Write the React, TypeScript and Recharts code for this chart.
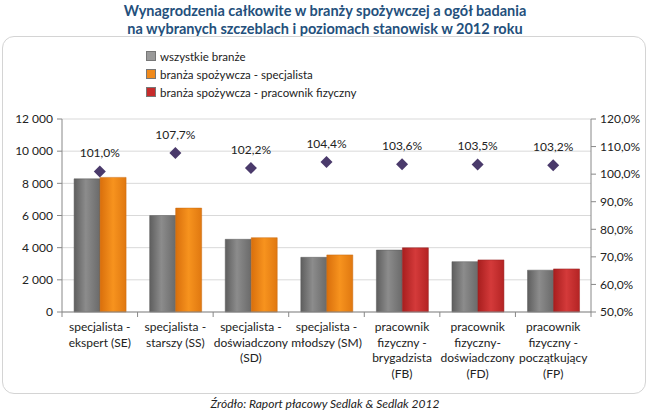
import { ComposedChart, Bar, Line, XAxis, YAxis, CartesianGrid, LabelList } from "recharts";

const categories = [
  "specjalista - ekspert (SE)",
  "specjalista - starszy (SS)",
  "specjalista - doświadczony (SD)",
  "specjalista - młodszy (SM)",
  "pracownik fizyczny - brygadzista (FB)",
  "pracownik fizyczny- doświadczony (FD)",
  "pracownik fizyczny - początkujący (FP)",
];
const tickLines = [
  ["specjalista -", "ekspert (SE)"],
  ["specjalista -", "starszy (SS)"],
  ["specjalista -", "doświadczony", "(SD)"],
  ["specjalista -", "młodszy (SM)"],
  ["pracownik", "fizyczny -", "brygadzista", "(FB)"],
  ["pracownik", "fizyczny-", "doświadczony", "(FD)"],
  ["pracownik", "fizyczny -", "początkujący", "(FP)"],
];
const allIndustries = [8280, 6000, 4520, 3400, 3850, 3130, 2600];
const foodSpecialist = [8370, 6460, 4620, 3550, null, null, null];
const foodPhysical = [null, null, null, null, 3990, 3240, 2680];
const ratio = [101.0, 107.7, 102.2, 104.4, 103.6, 103.5, 103.2];
const leftTicks = [0, 2000, 4000, 6000, 8000, 10000, 12000];
const rightTicks = [50, 60, 70, 80, 90, 100, 110, 120];

const data = categories.map((c, i) => ({
  name: c,
  all: allIndustries[i],
  spec: foodSpecialist[i],
  phys: foodPhysical[i],
  ratio: ratio[i],
}));

const FONT = "Lato, 'Open Sans', sans-serif";
const legendItems = [
  { label: "wszystkie branże", color: "#9a9a9a" },
  { label: "branża spożywcza - specjalista", color: "#f08a1c" },
  { label: "branża spożywcza - pracownik fizyczny", color: "#c62b2b" },
];

const fmtThousands = (v: number) => v.toString().replace(/\B(?=(\d{3})+(?!\d))/g, " ");
const fmtPct = (v: number) => v.toFixed(1).replace(".", ",") + "%";

function CategoryTick(props: any) {
  const { x, y, payload, index } = props;
  const band = 529 / 7;
  const lines = tickLines[payload.index ?? index] || [];
  return (
    <g>
      <line x1={x - band / 2} x2={x - band / 2} y1={y - 8} y2={y - 3} stroke="#888" />
      {index === 6 && <line x1={x + band / 2} x2={x + band / 2} y1={y - 8} y2={y - 3} stroke="#888" />}
      <text x={x} y={y + 11} textAnchor="middle" fontSize={12} fill="#222" fontFamily={FONT}>
        {lines.map((l, i) => (
          <tspan key={i} x={x} dy={i === 0 ? 0 : 15.5}>
            {l}
          </tspan>
        ))}
      </text>
    </g>
  );
}

function Diamond(props: any) {
  const { cx, cy } = props;
  if (cx == null || cy == null) return null;
  const r = 6;
  return (
    <polygon
      points={`${cx},${cy - r} ${cx + r},${cy} ${cx},${cy + r} ${cx - r},${cy}`}
      fill="#4a3a6b"
    />
  );
}

export default function App() {
  return (
    <div style={{ position: "absolute", left: 0, top: 0, width: 650, height: 414, background: "#fff", fontFamily: FONT }}>
      <div
        style={{
          position: "absolute",
          top: 2,
          left: 0,
          width: 650,
          textAlign: "center",
          fontWeight: 700,
          fontSize: 14.5,
          lineHeight: "18px",
          color: "#24507c",
        }}
      >
        Wynagrodzenia całkowite w branży spożywczej a ogół badania
        <br />
        na wybranych szczeblach i poziomach stanowisk w 2012 roku
      </div>
      <div
        style={{
          position: "absolute",
          left: 2,
          top: 36,
          width: 642,
          height: 356,
          border: "1.5px solid #d4d4d4",
          borderRadius: 12,
        }}
      />
      <div style={{ position: "absolute", left: 146, top: 47, fontSize: 11.5, color: "#222" }}>
        {legendItems.map((it) => (
          <div key={it.label} style={{ display: "flex", alignItems: "center", height: 18 }}>
            <span
              style={{
                display: "inline-block",
                width: 8,
                height: 8,
                background: it.color,
                border: "1px solid #777",
                marginRight: 4,
              }}
            />
            {it.label}
          </div>
        ))}
      </div>
      <div style={{ position: "absolute", left: 0, top: 0 }}>
        <ComposedChart
          width={650}
          height={414}
          data={data}
          margin={{ top: 119, right: 9, bottom: 22, left: 2 }}
          barGap={0}
          barCategoryGap="16%"
        >
          <defs>
            <linearGradient id="gGray" x1="0" y1="0" x2="1" y2="0">
              <stop offset="0%" stopColor="#5e5e5e" />
              <stop offset="45%" stopColor="#8c8c8c" />
              <stop offset="100%" stopColor="#6a6a6a" />
            </linearGradient>
            <linearGradient id="gOrange" x1="0" y1="0" x2="1" y2="0">
              <stop offset="0%" stopColor="#d96f0c" />
              <stop offset="50%" stopColor="#f7931e" />
              <stop offset="100%" stopColor="#e07810" />
            </linearGradient>
            <linearGradient id="gRed" x1="0" y1="0" x2="1" y2="0">
              <stop offset="0%" stopColor="#a81e1e" />
              <stop offset="50%" stopColor="#d43a3a" />
              <stop offset="100%" stopColor="#b42424" />
            </linearGradient>
          </defs>
          <CartesianGrid vertical={false} stroke="#d9d9d9" yAxisId="left" />
          <XAxis
            dataKey="name"
            height={80}
            interval={0}
            tick={<CategoryTick />}
            tickLine={false}
            axisLine={{ stroke: "#888" }}
          />
          <YAxis
            yAxisId="left"
            width={60}
            domain={[0, 12000]}
            ticks={leftTicks}
            tickFormatter={fmtThousands}
            tick={{ fontSize: 12, fill: "#222", fontFamily: FONT }}
            axisLine={{ stroke: "#888" }}
            tickLine={{ stroke: "#888" }}
            tickSize={5}
            tickMargin={4}
          />
          <YAxis
            yAxisId="right"
            orientation="right"
            width={50}
            domain={[50, 120]}
            ticks={rightTicks}
            tickFormatter={fmtPct}
            tick={{ fontSize: 12, fill: "#222", fontFamily: FONT, textAnchor: "start" }}
            axisLine={{ stroke: "#888" }}
            tickLine={{ stroke: "#888" }}
            tickSize={5}
            tickMargin={4}
          />
          <Bar yAxisId="left" dataKey="all" stackId="all" fill="url(#gGray)" stroke="#5a5a5a" strokeWidth={0.5} isAnimationActive={false} />
          <Bar yAxisId="left" dataKey="spec" stackId="food" fill="url(#gOrange)" stroke="#c86a10" strokeWidth={0.5} isAnimationActive={false} />
          <Bar yAxisId="left" dataKey="phys" stackId="food" fill="url(#gRed)" stroke="#962020" strokeWidth={0.5} isAnimationActive={false} />
          <Line
            yAxisId="right"
            dataKey="ratio"
            stroke="none"
            strokeWidth={0}
            dot={<Diamond />}
            activeDot={false}
            isAnimationActive={false}
          >
            <LabelList
              dataKey="ratio"
              position="top"
              offset={14}
              formatter={(v: any) => fmtPct(Number(v))}
              style={{ fontSize: 12, fill: "#222", fontFamily: FONT }}
            />
          </Line>
        </ComposedChart>
      </div>
      <div
        style={{
          position: "absolute",
          top: 396,
          left: 0,
          width: 650,
          textAlign: "center",
          fontStyle: "italic",
          fontSize: 12,
          color: "#222",
        }}
      >
        Źródło: Raport płacowy Sedlak &amp; Sedlak 2012
      </div>
    </div>
  );
}
